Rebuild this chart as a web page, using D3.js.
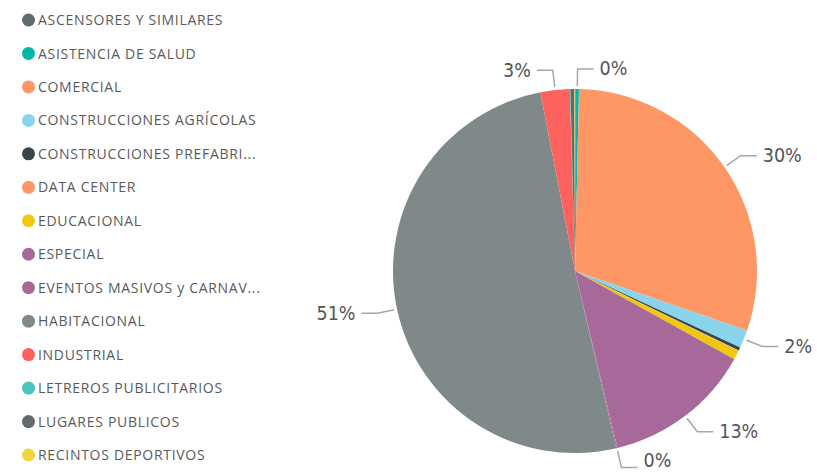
<!DOCTYPE html>
<html>
<head>
<meta charset="utf-8">
<script src="https://cdn.jsdelivr.net/npm/d3@7/dist/d3.min.js"></script>
<style>
  html, body { margin: 0; padding: 0; background: #ffffff; }
  svg { display: block; }
</style>
</head>
<body>
<svg id="chart" width="817" height="474"></svg>
<script>
// Categories as listed in the legend (also the clockwise slice order)
const categories = [
  "ASCENSORES Y SIMILARES",
  "ASISTENCIA DE SALUD",
  "COMERCIAL",
  "CONSTRUCCIONES AGRÍCOLAS",
  "CONSTRUCCIONES PREFABRI...",
  "DATA CENTER",
  "EDUCACIONAL",
  "ESPECIAL",
  "EVENTOS MASIVOS y CARNAV...",
  "HABITACIONAL",
  "INDUSTRIAL",
  "LETREROS PUBLICITARIOS",
  "LUGARES PUBLICOS",
  "RECINTOS DEPORTIVOS"
];

// Share of each category (percent)
const shares = [0.05, 0.3, 29.95, 1.6, 0.3, 0.05, 0.8, 13.2, 0.1, 50.6, 2.6, 0.05, 0.35, 0.05];

const colors = [
  "#5F6B6D", "#01B8AA", "#FE9666", "#8AD4EB", "#374649", "#FE9666", "#F2C80F",
  "#A66999", "#A66999", "#7F898A", "#FD625E", "#4AC5BB", "#5F6B6D", "#F5D33F"
];

// Slices that carry a data label
const labelled = ["ASISTENCIA DE SALUD", "COMERCIAL", "CONSTRUCCIONES AGRÍCOLAS", "ESPECIAL",
                  "EVENTOS MASIVOS y CARNAV...", "HABITACIONAL", "INDUSTRIAL"];

const data = categories.map((c, i) => ({ category: c, value: shares[i], color: colors[i] }));

const width = 817, height = 474;
const svg = d3.select("#chart");

// ---- Legend ----
const legend = svg.append("g");
const rowY = d3.scalePoint().domain(categories).range([20, 455]);
const legendRows = legend.selectAll("g.row").data(data).join("g")
  .attr("class", "row")
  .attr("transform", d => `translate(0,${rowY(d.category)})`);
legendRows.append("circle")
  .attr("cx", 28.5).attr("cy", 0).attr("r", 6.5)
  .attr("fill", d => d.color);
legendRows.append("text")
  .attr("x", 38).attr("y", 0).attr("dy", "0.36em")
  .attr("font-family", "'Open Sans', sans-serif")
  .attr("font-size", 14)
  .attr("letter-spacing", 0.7)
  .attr("fill", "#5a5a5a")
  .text(d => d.category);

// ---- Pie ----
const cx = 575, cy = 271, r = 182;
const total = d3.sum(shares);
const pie = d3.pie().value(d => d.value).sort(null);
const arcs = pie(data);
const arc = d3.arc().innerRadius(0).outerRadius(r);

const g = svg.append("g").attr("transform", `translate(${cx},${cy})`);
g.selectAll("path.slice").data(arcs).join("path")
  .attr("class", "slice")
  .attr("d", arc)
  .attr("fill", d => d.data.color);

// ---- Data labels with leader lines ----
const startArc = d3.arc().innerRadius(r + 3).outerRadius(r + 3);
const kneeArc = d3.arc().innerRadius(r + 20).outerRadius(r + 20);
const pctFmt = v => Math.round(v / total * 100) + "%";

const labelArcs = arcs.filter(d => labelled.includes(d.data.category));
const lg = g.append("g");
labelArcs.forEach(d => {
  const mid = (d.startAngle + d.endAngle) / 2;
  const p0 = startArc.centroid(d);
  const p1 = kneeArc.centroid(d);
  const right = Math.sin(mid) >= 0;
  const p2 = [p1[0] + (right ? 16 : -16), p1[1]];
  lg.append("polyline")
    .attr("points", [p0, p1, p2].map(p => p.join(",")).join(" "))
    .attr("fill", "none")
    .attr("stroke", "#a6a6a6")
    .attr("stroke-width", 1.5);
  // keep the label inside the drawing area
  const ty = Math.min(p2[1], height - cy - 13);
  lg.append("text")
    .attr("x", p2[0] + (right ? 6 : -6))
    .attr("y", ty)
    .attr("dy", "0.33em")
    .attr("text-anchor", right ? "start" : "end")
    .attr("font-family", "'DejaVu Sans Condensed', 'DejaVu Sans', sans-serif")
    .attr("font-size", 19.5)
    .attr("fill", "#555555")
    .text(pctFmt(d.data.value));
});
</script>
</body>
</html>
